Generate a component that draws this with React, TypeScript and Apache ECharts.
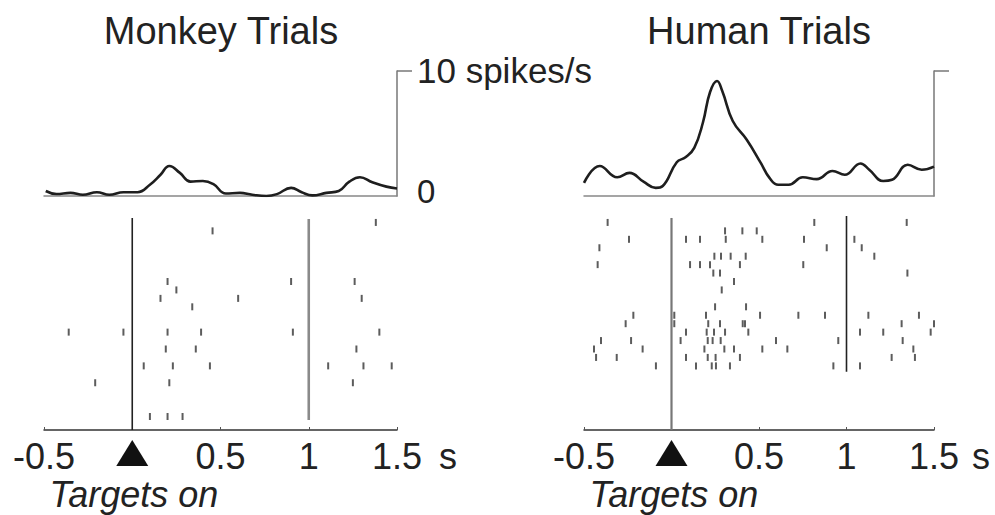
import React, { useEffect, useRef } from "react";
import * as echarts from "echarts";

// ---------- data ----------
const monkeyPsthT = [-0.49, -0.43, -0.35, -0.28, -0.2, -0.13, -0.05, 0.03, 0.1, 0.16, 0.21, 0.27, 0.33, 0.4, 0.46, 0.53, 0.61, 0.68, 0.76, 0.82, 0.9, 0.96, 1.02, 1.1, 1.17, 1.23, 1.29, 1.36, 1.44, 1.5];
const monkeyPsthV = [0.4, 0.16, 0.25, 0.1, 0.3, 0.1, 0.3, 0.3, 0.9, 1.7, 2.4, 1.85, 1.15, 1.2, 0.95, 0.2, 0.25, 0.1, 0.0, 0.15, 0.65, 0.3, 0.05, 0.25, 0.4, 1.15, 1.5, 1.1, 0.75, 0.6];

const humanPsthT = [-0.5, -0.41, -0.31, -0.24, -0.16, -0.09, -0.05, 0.03, 0.08, 0.13, 0.18, 0.22, 0.26, 0.29, 0.35, 0.43, 0.51, 0.56, 0.61, 0.67, 0.75, 0.83, 0.92, 0.99, 1.08, 1.13, 1.21, 1.26, 1.35, 1.43, 1.5];
const humanPsthV = [1.05, 2.4, 1.5, 1.85, 1.15, 0.65, 0.8, 2.7, 3.1, 3.85, 5.9, 8.3, 9.2, 8.4, 6.0, 4.5, 2.65, 1.45, 0.9, 0.9, 1.5, 1.35, 2.0, 1.7, 2.6, 2.1, 1.2, 1.3, 2.5, 2.1, 2.35];

// spike times (s) per trial row (row index = trial)
const monkeyRows: number[][] = [
  [1.38],
  [0.455],
  [], [], [], [], [],
  [0.2, 0.9, 1.26],
  [0.25],
  [0.16, 0.6, 1.3],
  [0.34],
  [], [],
  [-0.36, -0.05, 0.2, 0.39, 0.91, 1.4],
  [],
  [0.19, 0.36, 1.27],
  [],
  [0.065, 0.23, 0.44, 1.11, 1.31, 1.47],
  [],
  [-0.21, 0.21, 1.25],
  [], [], [],
  [0.1, 0.2, 0.285],
];

const humanRows: number[][] = [
  [-0.365, 0.816, 1.344],
  [0.306, 0.405, 0.487],
  [-0.243, 0.083, 0.163, 0.31, 0.519, 0.757, 1.045],
  [-0.412, 0.887, 1.087],
  [0.245, 0.283, 0.338, 0.424, 1.159],
  [-0.422, 0.106, 0.163, 0.22, 0.391, 0.753],
  [0.239, 0.277, 1.348],
  [0.357],
  [0.287],
  [],
  [0.249, 0.426],
  [-0.218, 0.016, 0.197, 0.506, 0.725, 0.877, 1.125, 1.414],
  [-0.262, 0.016, 0.21, 0.277, 0.407, 0.42, 1.315, 1.5],
  [0.083, 0.201, 0.243, 0.306, 0.439, 1.077, 1.21, 1.481],
  [-0.403, -0.231, 0.052, 0.207, 0.235, 0.281, 0.597, 0.953, 1.321],
  [-0.443, -0.165, 0.188, 0.302, 0.357, 0.519, 0.662, 1.382],
  [-0.431, -0.313, 0.083, 0.207, 0.252, 0.391, 1.258, 1.391],
  [-0.089, 0.14, 0.23, 0.254, 0.334, 0.925, 1.077],
];

// event markers: time, first row extent, last row extent
const eventTimes = [0, 1];
const monkeyEventSpan = [[-0.53, 24.6], [-0.41, 23.4]];
const humanEventSpan = [[-0.53, 24.6], [-0.76, 17.7]];
const onsetTime = 0;

const rateMax = 10;
const rowMin = -1;
const rowMax = 24.6;

// ---------- chart ----------
const FONT = '"Liberation Sans", Arial, Helvetica, sans-serif';
const INK = "#1e1e1e";

const zip = (a: number[], b: number[]) => a.map((v, i) => [v, b[i]]);
const spikes = (rows: number[][]) => {
  const out: number[][] = [];
  rows.forEach((r, i) => r.forEach((t) => out.push([t, i])));
  return out;
};

export default function App() {
  const ref = useRef<HTMLDivElement>(null);
  useEffect(() => {
    if (!ref.current) return;
    const chart = echarts.init(ref.current, null, { renderer: "svg" });

    const rasterX = (gi: number) => ({
      type: "value",
      gridIndex: gi,
      min: -0.5,
      max: 1.5,
      interval: 0.5,
      axisLine: { onZero: false, lineStyle: { color: "#333", width: 1.5 } },
      axisTick: { inside: true, length: 3, lineStyle: { color: "#555", width: 1 } },
      splitLine: { show: false },
      axisLabel: {
        margin: 8,
        fontSize: 36,
        fontFamily: FONT,
        color: "#222",
        showMinLabel: true,
        showMaxLabel: true,
        formatter: (v: number) => (v === onsetTime ? "" : String(v)),
      },
    });
    const psthX = (gi: number) => ({
      type: "value",
      gridIndex: gi,
      min: -0.5,
      max: 1.5,
      axisLine: { onZero: false, lineStyle: { color: "#888", width: 1.5 } },
      axisTick: { show: false },
      axisLabel: { show: false },
      splitLine: { show: false },
    });
    const psthY = (gi: number, labels: boolean) => ({
      type: "value",
      gridIndex: gi,
      position: "right",
      min: 0,
      max: rateMax,
      interval: rateMax,
      axisLine: { show: true, onZero: false, lineStyle: { color: "#777", width: 1.5 } },
      axisTick: { show: true, inside: false, length: 15, customValues: [rateMax], lineStyle: { color: "#777", width: 1.5 } },
      splitLine: { show: false },
      axisLabel: {
        show: labels,
        customValues: [0, rateMax],
        margin: 20,
        fontSize: 35,
        fontFamily: FONT,
        color: "#222",
        formatter: (v: number) => (v === rateMax ? "{t|10 spikes/s}" : "{z|0}"),
        rich: {
          t: { fontSize: 35, fontFamily: FONT, color: "#222", padding: [0, 0, 2, 0] },
          z: { fontSize: 33, fontFamily: FONT, color: "#222", padding: [0, 0, 10, 0] },
        },
      },
    });
    const rasterY = (gi: number) => ({
      type: "value",
      gridIndex: gi,
      min: rowMin,
      max: rowMax,
      inverse: true,
      show: false,
    });

    const eventSeries = (xi: number, spans: number[][], styles: { color: string; width: number }[]) =>
      eventTimes.map((t, i) => ({
        type: "line",
        xAxisIndex: xi,
        yAxisIndex: xi,
        data: [[t, spans[i][0]], [t, spans[i][1]]],
        symbol: "none",
        lineStyle: { color: styles[i].color, width: styles[i].width },
        silent: true,
        z: 1,
      }));

    const psthSeries = (xi: number, t: number[], v: number[]) => ({
      type: "line",
      xAxisIndex: xi,
      yAxisIndex: xi,
      data: zip(t, v),
      smooth: 0.45,
      symbol: "none",
      lineStyle: { color: INK, width: 2.6 },
      z: 3,
    });
    const spikeSeries = (xi: number, rows: number[][]) => ({
      type: "scatter",
      xAxisIndex: xi,
      yAxisIndex: xi,
      data: spikes(rows),
      symbol: "rect",
      symbolSize: [2, 7],
      itemStyle: { color: "#333" },
      z: 2,
    });

    const textStyleBase = { fontFamily: FONT, fill: "#222" };

    chart.setOption({
      animation: false,
      backgroundColor: "#ffffff",
      grid: [
        { left: 44, top: 71, width: 353, height: 125 },
        { left: 44, top: 214, width: 353, height: 216 },
        { left: 584, top: 71, width: 350, height: 125 },
        { left: 584, top: 214, width: 350, height: 216 },
      ],
      xAxis: [psthX(0), rasterX(1), psthX(2), rasterX(3)],
      yAxis: [psthY(0, true), rasterY(1), psthY(2, false), rasterY(3)],
      series: [
        psthSeries(0, monkeyPsthT, monkeyPsthV),
        spikeSeries(1, monkeyRows),
        ...eventSeries(1, monkeyEventSpan, [
          { color: "#222", width: 1.6 },
          { color: "#8a8a8a", width: 2.6 },
        ]),
        psthSeries(2, humanPsthT, humanPsthV),
        spikeSeries(3, humanRows),
        ...eventSeries(3, humanEventSpan, [
          { color: "#777", width: 2.2 },
          { color: "#222", width: 1.6 },
        ]),
      ],
    });

    // onset triangles placed under the t = 0 tick using the axis scale
    const tri = [1, 3].map((gi) => {
      const p = chart.convertToPixel({ gridIndex: gi }, [onsetTime, rowMax]) as number[];
      const cx = p[0];
      const top = p[1] + 10;
      return {
        type: "polygon",
        shape: { points: [[cx - 16, top + 26], [cx, top], [cx + 16, top + 26]] },
        style: { fill: "#111" },
        silent: true,
      };
    });

    chart.setOption({
      graphic: [
        { type: "text", x: 221, y: 12, style: { ...textStyleBase, text: "Monkey Trials", fontSize: 38, textAlign: "center", textVerticalAlign: "top" } },
        { type: "text", x: 759, y: 12, style: { ...textStyleBase, text: "Human Trials", fontSize: 38, textAlign: "center", textVerticalAlign: "top" } },
        { type: "text", x: 134, y: 476, style: { ...textStyleBase, text: "Targets on", fontSize: 36, fontStyle: "italic", textAlign: "center", textVerticalAlign: "top" } },
        { type: "text", x: 674, y: 476, style: { ...textStyleBase, text: "Targets on", fontSize: 36, fontStyle: "italic", textAlign: "center", textVerticalAlign: "top" } },
        { type: "text", x: 439, y: 438, style: { ...textStyleBase, text: "s", fontSize: 36, textAlign: "left", textVerticalAlign: "top" } },
        { type: "text", x: 972, y: 438, style: { ...textStyleBase, text: "s", fontSize: 36, textAlign: "left", textVerticalAlign: "top" } },
        ...tri,
      ],
    });

    return () => chart.dispose();
  }, []);
  return (
    <div
      ref={ref}
      style={{ position: "absolute", left: 0, top: 0, width: 995, height: 515, background: "#fff" }}
    />
  );
}
